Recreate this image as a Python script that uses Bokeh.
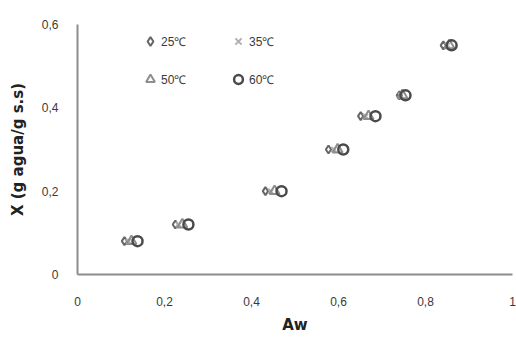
from bokeh.plotting import figure
from bokeh.models import Legend, LegendItem, FixedTicker, CustomJSTickFormatter, Range1d
from bokeh.embed import file_html
from bokeh.resources import INLINE

# Data
aw_25 = [0.108, 0.225, 0.432, 0.577, 0.651, 0.740, 0.841]
aw_35 = [0.117, 0.232, 0.444, 0.589, 0.662, 0.743, 0.850]
aw_50 = [0.124, 0.241, 0.453, 0.598, 0.669, 0.747, 0.855]
aw_60 = [0.138, 0.255, 0.469, 0.611, 0.685, 0.754, 0.860]
x_25 = [0.08, 0.12, 0.20, 0.30, 0.38, 0.43, 0.55]
x_35 = [0.08, 0.12, 0.20, 0.30, 0.38, 0.43, 0.55]
x_50 = [0.08, 0.12, 0.20, 0.30, 0.38, 0.43, 0.55]
x_60 = [0.08, 0.12, 0.20, 0.30, 0.38, 0.43, 0.55]
labels = ["25\u2103", "35\u2103", "50\u2103", "60\u2103"]
x_ticks = [0, 0.2, 0.4, 0.6, 0.8, 1.0]
y_ticks = [0, 0.2, 0.4, 0.6]

p = figure(width=516, height=340, output_backend="svg", toolbar_location=None,
           x_range=Range1d(0, 1), y_range=Range1d(0, 0.6),
           min_border_left=77, min_border_right=4, min_border_top=24, min_border_bottom=66)
p.outline_line_color = None
p.xgrid.visible = False
p.ygrid.visible = False

fmt = CustomJSTickFormatter(code="return tick === 0 ? '0' : (Math.abs(tick-1) < 1e-9 ? '1' : tick.toFixed(1).replace('.', ','));")
for ax, ticks in ((p.xaxis[0], x_ticks), (p.yaxis[0], y_ticks)):
    ax.ticker = FixedTicker(ticks=ticks)
    ax.formatter = fmt
    ax.axis_line_color = "#8c8c8c"
    ax.axis_line_width = 2
    ax.major_tick_line_color = None
    ax.minor_tick_line_color = None
    ax.major_label_text_font = "Liberation Sans"
    ax.major_label_text_font_size = "12px"
    ax.major_label_text_color = "#3a3a3a"
    ax.axis_label_text_font = "DejaVu Sans"
    ax.axis_label_text_font_style = "bold"
    ax.axis_label_text_font_size = "15px"
    ax.axis_label_text_color = "#222222"

p.xaxis.axis_label = "Aw"
p.yaxis.axis_label = "X (g agua/g s.s)"
p.xaxis.major_label_standoff = 16
p.yaxis.major_label_standoff = 13
p.xaxis.axis_label_standoff = 7
p.yaxis.axis_label_standoff = 12

r25 = p.scatter(aw_25, x_25, marker="diamond", size=8, fill_color="white",
                line_color="#666666", line_width=2)
r35 = p.scatter(aw_35, x_35, marker="x", size=7, line_color="#b0b0b0", line_width=2)
r50 = p.scatter(aw_50, x_50, marker="triangle", size=10, fill_color=None,
                line_color="#8e8e8e", line_width=2)
r60 = p.scatter(aw_60, x_60, marker="circle", size=10, fill_color=None,
                line_color="#4a4a4a", line_width=2.5)

legend = Legend(items=[LegendItem(label=labels[0], renderers=[r25]),
                       LegendItem(label=labels[2], renderers=[r50]),
                       LegendItem(label=labels[1], renderers=[r35]),
                       LegendItem(label=labels[3], renderers=[r60])],
                ncols=2, location=(62, 184), glyph_width=22, glyph_height=22,
                label_standoff=0, label_width=50, spacing=16, padding=0, margin=0,
                border_line_color=None, background_fill_alpha=0,
                label_text_font="Liberation Sans", label_text_font_size="12px",
                label_text_color="#3a3a3a")
p.add_layout(legend, "center")

open("out.html", "w").write(file_html(p, INLINE))
